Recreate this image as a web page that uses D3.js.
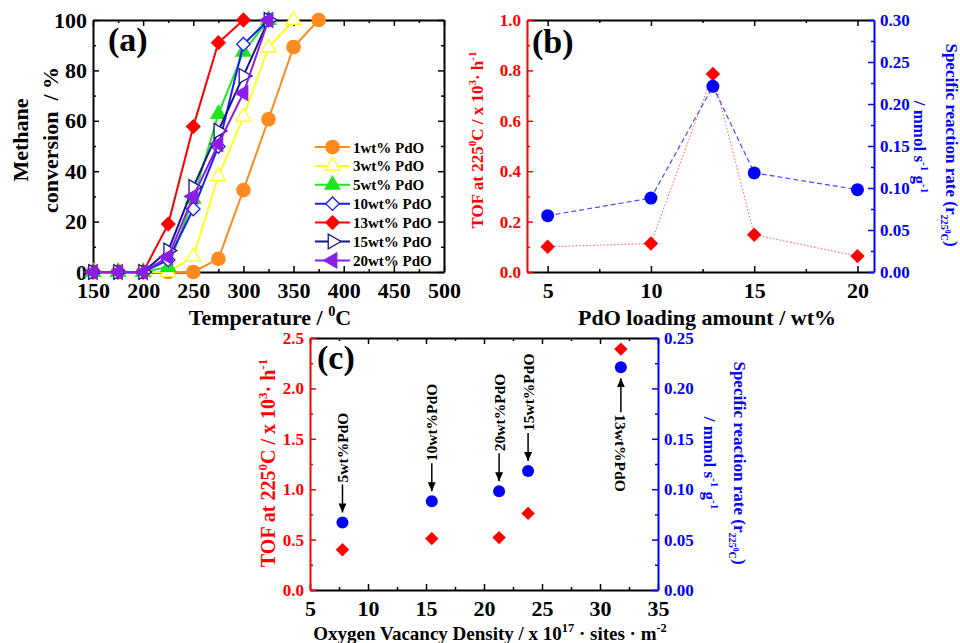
<!DOCTYPE html>
<html>
<head>
<meta charset="utf-8">
<script src="https://cdn.jsdelivr.net/npm/d3@7"></script>
<style>
body { margin: 0; background: #fff; }
svg text { font-family: "Liberation Serif", "Times New Roman", serif; font-weight: bold; }
</style>
</head>
<body>
<div id="chart-area"></div>
<script>
// ---- panel (a): light-off curves ----
const temps = [150, 175, 200, 225, 250, 275, 300, 325, 350, 375];
const seriesNames = ["1wt% PdO", "3wt% PdO", "5wt% PdO", "10wt% PdO", "13wt% PdO", "15wt% PdO", "20wt% PdO"];
const conv1wt = [0, 0, 0, 0, 0, 5.2, 32.5, 60.6, 89.3, 100];
const conv3wt = [0, 0, 0, 0, 6, 38, 61.6, 89, 100];
const conv5wt = [0, 0, 0, 2, 29, 62.7, 87.4, 100];
const conv10wt = [0, 0, 0, 4.8, 25, 49.8, 90.4, 100];
const conv13wt = [0, 0, 0, 19, 57.7, 91, 100];
const conv15wt = [0, 0, 0, 8.5, 33.7, 56, 77.8, 100];
const conv20wt = [0, 0, 0, 6, 30, 50.8, 71, 100];
const tempTicks = [150, 200, 250, 300, 350, 400, 450, 500];
const convTicks = [0, 20, 40, 60, 80, 100];

// ---- panel (b): vs PdO loading ----
const loadings = [5, 10, 13, 15, 20];
const tofLoading = [0.10, 0.113, 0.786, 0.148, 0.063];
const rateLoading = [0.067, 0.088, 0.221, 0.118, 0.098];
const loadingTicks = [5, 10, 15, 20];
const tofTicksB = [0, 0.2, 0.4, 0.6, 0.8, 1.0];
const rateTicksB = [0, 0.05, 0.10, 0.15, 0.20, 0.25, 0.30];

// ---- panel (c): vs oxygen vacancy density ----
const vacancy = [7.8, 15.5, 21.3, 23.8, 31.8];
const tofVacancy = [0.40, 0.51, 0.52, 0.76, 2.39];
const rateVacancy = [0.067, 0.088, 0.098, 0.118, 0.221];
const vacancyLabels = ["5wt%PdO", "10wt%PdO", "20wt%PdO", "15wt%PdO", "13wt%PdO"];
const vacancyTicks = [5, 10, 15, 20, 25, 30, 35];
const tofTicksC = [0, 0.5, 1.0, 1.5, 2.0, 2.5];
const rateTicksC = [0, 0.05, 0.10, 0.15, 0.20, 0.25];

const RED = "#ff0000", BLUE = "#0000ff";

const svg = d3.select("#chart-area").append("svg")
    .attr("width", 960)
    .attr("height", 643)
    .style("background", "#fff");

svg.append("defs").append("marker")
    .attr("id", "arrow")
    .attr("markerUnits", "userSpaceOnUse")
    .attr("markerWidth", 10).attr("markerHeight", 8)
    .attr("refX", 9).attr("refY", 4)
    .attr("orient", "auto")
    .append("path").attr("d", "M0,0L9,4L0,8Z").attr("fill", "#000");

// minor ticks halfway between majors
function halves(ticks) {
    var out = [];
    for (var i = 0; i < ticks.length - 1; i++) out.push((ticks[i] + ticks[i + 1]) / 2);
    return out;
}

function drawAxis(orient, scale, pos, major, minor, color, fmt, fs) {
    var make = { bottom: d3.axisBottom, top: d3.axisTop, left: d3.axisLeft, right: d3.axisRight }[orient];
    var tr = (orient == "bottom" || orient == "top") ? "translate(0," + pos + ")" : "translate(" + pos + ",0)";
    svg.append("g").attr("transform", tr)
        .call(make(scale).tickValues(minor).tickSize(-3).tickSizeOuter(0).tickFormat(""))
        .call(s => s.select(".domain").remove())
        .call(s => s.selectAll("line").attr("stroke", color).attr("stroke-width", 1.5));
    var a = svg.append("g").attr("transform", tr)
        .call(make(scale).tickValues(major).tickSize(-6).tickSizeOuter(0)
            .tickPadding(orient == "bottom" ? 10 : 6)
            .tickFormat(fmt || (() => "")));
    a.select(".domain").attr("stroke", color).attr("stroke-width", 2);
    a.selectAll("line").attr("stroke", color).attr("stroke-width", 1.5);
    a.selectAll("text").attr("fill", color).attr("font-size", fs);
    return a;
}

// text with super/subscripts; x,y is the baseline centre point before rotation
function richText(x, y, fs, color, rot, parts) {
    var t = svg.append("text")
        .attr("transform", "translate(" + x + "," + y + ") rotate(" + rot + ")")
        .attr("text-anchor", "middle")
        .attr("font-size", fs)
        .attr("fill", color);
    var shift = 0;
    parts.forEach(p => {
        var s = 0, size = fs;
        if (p[1] == "sup") { s = -0.42 * fs; size = fs * 0.65; }
        if (p[1] == "sub") { s = 0.28 * fs; size = fs * 0.6; }
        if (p[1] == "subsup") { s = 0.05 * fs; size = fs * 0.45; }
        t.append("tspan").attr("dy", s - shift).attr("font-size", size).text(p[0]);
        shift = s;
    });
    return t;
}

// ================= (a) =================
var xA = d3.scaleLinear().domain([150, 500]).range([93, 444]);
var yA = d3.scaleLinear().domain([0, 100]).range([272, 20]);

drawAxis("top", xA, 20, tempTicks, halves(tempTicks), "#000", null, 21);
drawAxis("right", yA, 444, convTicks, halves(convTicks), "#000", null, 21);
drawAxis("bottom", xA, 272, tempTicks, halves(tempTicks), "#000", d3.format("d"), 22);
drawAxis("left", yA, 93, convTicks, halves(convTicks), "#000", d3.format("d"), 22);

var convSeries = [conv1wt, conv3wt, conv5wt, conv10wt, conv13wt, conv15wt, conv20wt];
var seriesColors = ["#ff8a1e", "#ffff1a", "#1ee61e", "#1a1aff", "#ff0000", "#14148c", "#8a1ee6"];
var seriesShapes = [
    { type: d3.symbolCircle, size: 140, rot: 0, fill: true },
    { type: d3.symbolTriangle, size: 95, rot: 0, fill: false },
    { type: d3.symbolTriangle, size: 95, rot: 0, fill: true },
    { type: d3.symbolSquare, size: 90, rot: 45, fill: false },
    { type: d3.symbolSquare, size: 90, rot: 45, fill: true },
    { type: d3.symbolTriangle, size: 95, rot: 90, fill: false },
    { type: d3.symbolTriangle, size: 95, rot: -90, fill: true }
];

var lineA = d3.line().x((d, i) => xA(temps[i])).y(d => yA(d));

convSeries.forEach((vals, k) => {
    var sh = seriesShapes[k];
    svg.append("path")
        .attr("d", lineA(vals))
        .attr("fill", "none")
        .attr("stroke", seriesColors[k])
        .attr("stroke-width", 2);
    svg.append("g").selectAll("path")
        .data(vals)
        .join("path")
        .attr("d", d3.symbol().type(sh.type).size(sh.size))
        .attr("transform", (d, i) => "translate(" + xA(temps[i]) + "," + yA(d) + ") rotate(" + sh.rot + ")")
        .attr("fill", sh.fill ? seriesColors[k] : "#fff")
        .attr("stroke", seriesColors[k])
        .attr("stroke-width", 1.3);
});

// legend
var leg = svg.append("g").attr("transform", "translate(315,147)");
seriesNames.forEach((name, k) => {
    var sh = seriesShapes[k];
    var row = leg.append("g").attr("transform", "translate(0," + (k * 18.9) + ")");
    row.append("line").attr("x1", 0).attr("x2", 35)
        .attr("stroke", seriesColors[k]).attr("stroke-width", 2);
    row.append("path")
        .attr("d", d3.symbol().type(sh.type).size(sh.size))
        .attr("transform", "translate(17.5,0) rotate(" + sh.rot + ")")
        .attr("fill", sh.fill ? seriesColors[k] : "#fff")
        .attr("stroke", seriesColors[k])
        .attr("stroke-width", 1.3);
    row.append("text").attr("x", 38).attr("y", 5.5)
        .attr("font-size", 15).attr("fill", "#000").text(name);
});

svg.append("text").attr("x", 108).attr("y", 51).attr("font-size", 34).text("(a)");
richText(28, 140, 22, "#000", -90, [["Methane", ""]]);
richText(58, 140, 22, "#000", -90, [["conversion\u00a0\u00a0/ %", ""]]);
richText(270, 325, 22, "#000", 0, [["Temperature / ", ""], ["0", "sup"], ["C", ""]]);

// ================= (b) =================
var xB = d3.scaleLinear().domain([4, 20.8]).range([527, 874]);
var yB1 = d3.scaleLinear().domain([0, 1]).range([272, 20]);
var yB2 = d3.scaleLinear().domain([0, 0.3]).range([272, 20]);

drawAxis("top", xB, 20, loadingTicks, [7.5, 12.5, 17.5], "#000", null, 21);
drawAxis("bottom", xB, 272, loadingTicks, [7.5, 12.5, 17.5], "#000", d3.format("d"), 22);
drawAxis("left", yB1, 527, tofTicksB, halves(tofTicksB), RED, d3.format(".1f"), 17);
drawAxis("right", yB2, 874, rateTicksB, halves(rateTicksB), BLUE, d3.format(".2f"), 17);

svg.append("path")
    .attr("d", d3.line().x((d, i) => xB(loadings[i])).y(d => yB1(d))(tofLoading))
    .attr("fill", "none").attr("stroke", "#ff5a5a").attr("stroke-width", 1)
    .attr("stroke-dasharray", "1.5,2");
svg.append("path")
    .attr("d", d3.line().x((d, i) => xB(loadings[i])).y(d => yB2(d))(rateLoading))
    .attr("fill", "none").attr("stroke", "#4a4aff").attr("stroke-width", 1.2)
    .attr("stroke-dasharray", "5,3");

svg.append("g").selectAll("path")
    .data(tofLoading)
    .join("path")
    .attr("d", d3.symbol().type(d3.symbolSquare).size(105))
    .attr("transform", (d, i) => "translate(" + xB(loadings[i]) + "," + yB1(d) + ") rotate(45)")
    .attr("fill", RED);
svg.append("g").selectAll("circle")
    .data(rateLoading)
    .join("circle")
    .attr("cx", (d, i) => xB(loadings[i]))
    .attr("cy", d => yB2(d))
    .attr("r", 6.5)
    .attr("fill", BLUE);

svg.append("text").attr("x", 532).attr("y", 53).attr("font-size", 34).text("(b)");
richText(483, 140, 17, RED, -90,
    [["TOF at 225", ""], ["0", "sup"], ["C  / x 10", ""], ["3", "sup"], ["· h", ""], ["-1", "sup"]]);
richText(914, 147, 17, BLUE, 90, [["/ mmol s", ""], ["-1", "sup"], [" g", ""], ["-1", "sup"]]);
richText(946, 145, 17, BLUE, 90,
    [["Specific reaction rate (r", ""], ["225", "sub"], ["0", "subsup"], ["C", "sub"], [")", ""]]);
richText(707, 325, 22, "#000", 0, [["PdO loading amount / wt%", ""]]);

// ================= (c) =================
var xC = d3.scaleLinear().domain([5, 35]).range([310, 658]);
var yC1 = d3.scaleLinear().domain([0, 2.5]).range([590, 338]);
var yC2 = d3.scaleLinear().domain([0, 0.25]).range([590, 338]);

drawAxis("top", xC, 338, vacancyTicks, halves(vacancyTicks), "#000", null, 21);
drawAxis("bottom", xC, 590, vacancyTicks, halves(vacancyTicks), "#000", d3.format("d"), 22);
drawAxis("left", yC1, 310, tofTicksC, halves(tofTicksC), RED, d3.format(".1f"), 17);
drawAxis("right", yC2, 658, rateTicksC, halves(rateTicksC), BLUE, d3.format(".2f"), 17);

svg.append("g").selectAll("path")
    .data(tofVacancy)
    .join("path")
    .attr("d", d3.symbol().type(d3.symbolSquare).size(90))
    .attr("transform", (d, i) => "translate(" + xC(vacancy[i]) + "," + yC1(d) + ") rotate(45)")
    .attr("fill", RED);
svg.append("g").selectAll("circle")
    .data(rateVacancy)
    .join("circle")
    .attr("cx", (d, i) => xC(vacancy[i]))
    .attr("cy", d => yC2(d))
    .attr("r", 6)
    .attr("fill", BLUE);

// arrows + loading labels; the highest point gets its label below
vacancyLabels.forEach((lab, i) => {
    var cx = xC(vacancy[i]), cy = yC2(rateVacancy[i]);
    var below = i == vacancyLabels.length - 1;
    var tip = below ? cy + 11 : cy - 10;
    var base = below ? tip + 34 : tip - 28;
    svg.append("line")
        .attr("x1", cx).attr("y1", base).attr("x2", cx).attr("y2", tip)
        .attr("stroke", "#000").attr("stroke-width", 1.5)
        .attr("marker-end", "url(#arrow)");
    svg.append("text")
        .attr("transform", "translate(" + cx + "," + (below ? base + 2 : base - 2) + ") rotate(" + (below ? 90 : -90) + ")")
        .attr("dy", "0.35em")
        .attr("font-size", 15.5)
        .attr("fill", "#000")
        .text(lab);
});

svg.append("text").attr("x", 317).attr("y", 369).attr("font-size", 34).text("(c)");
richText(275, 463, 20, RED, -90,
    [["TOF at 225", ""], ["0", "sup"], ["C / x 10", ""], ["3", "sup"], ["· h", ""], ["-1", "sup"]]);
richText(704, 463, 17, BLUE, 90, [["/ mmol s", ""], ["-1", "sup"], [" g", ""], ["-1", "sup"]]);
richText(734, 463, 17, BLUE, 90,
    [["Specific reaction rate (r", ""], ["225", "sub"], ["0", "subsup"], ["C", "sub"], [")", ""]]);
richText(490, 640, 19, "#000", 0,
    [["Oxygen Vacancy Density / x 10", ""], ["17", "sup"], [" · sites · m", ""], ["-2", "sup"]]);
</script>
</body>
</html>
